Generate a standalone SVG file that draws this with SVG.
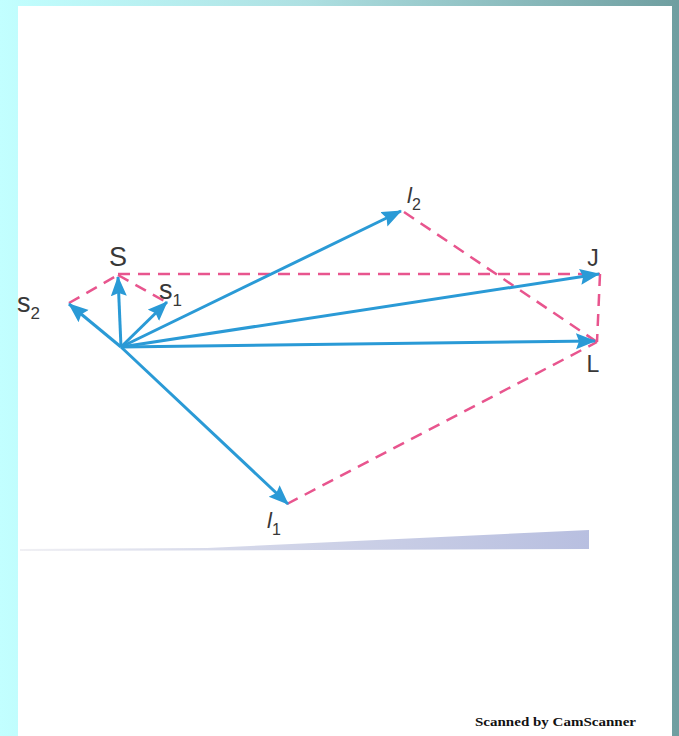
<svg xmlns="http://www.w3.org/2000/svg" width="679" height="736" viewBox="0 0 679 736">
  <defs>
    <linearGradient id="bg" x1="0" y1="0" x2="1" y2="0">
      <stop offset="0" stop-color="#c2ffff"/>
      <stop offset="0.45" stop-color="#aee0e2"/>
      <stop offset="1" stop-color="#6f9ea0"/>
    </linearGradient>
    <linearGradient id="wedge" x1="0" y1="0" x2="1" y2="0">
      <stop offset="0" stop-color="#f0f0f4"/>
      <stop offset="0.35" stop-color="#d6d9ea"/>
      <stop offset="1" stop-color="#b8bfe0"/>
    </linearGradient>
    <marker id="arr" markerUnits="userSpaceOnUse" markerWidth="22" markerHeight="18" refX="19" refY="8" orient="auto">
      <path d="M0,0 L20,8 L0,16 L3,8 z" fill="#2a9ad6"/>
    </marker>
    <style>
      .vec { stroke: #2a9ad6; stroke-width: 3; fill: none; marker-end: url(#arr); }
      .dash { stroke: #e8558e; stroke-width: 2.5; fill: none; stroke-dasharray: 12 8; }
      .lbl { font-family: "Liberation Sans", Arial, sans-serif; fill: #383838; }
      .it { font-style: italic; }
      .scan { font-family: "Liberation Serif", "Times New Roman", serif; font-weight: bold; fill: #111111; }
    </style>
  </defs>

  <rect x="0" y="0" width="679" height="736" fill="url(#bg)"/>
  <rect x="18" y="6" width="654" height="730" fill="#ffffff"/>

  <!-- faint scan band at bottom -->
  <polygon points="20,549 207,548 589,530 589,549 20,551" fill="url(#wedge)"/>

  <g id="connectors">
    <line class="dash" x1="69" y1="303" x2="118" y2="275"/>
    <line class="dash" x1="118" y1="275" x2="166" y2="302"/>
    <line class="dash" x1="118" y1="274" x2="600" y2="274"/>
    <line class="dash" x1="600" y1="274" x2="597" y2="342"/>
    <line class="dash" x1="404" y1="212" x2="597" y2="342"/>
    <line class="dash" x1="287" y1="504" x2="597" y2="342"/>

    <line class="vec" x1="121" y1="347" x2="118" y2="277"/>
    <line class="vec" x1="121" y1="347" x2="69" y2="304"/>
    <line class="vec" x1="121" y1="347" x2="167" y2="302"/>
    <line class="vec" x1="121" y1="347" x2="401" y2="211"/>
    <line class="vec" x1="121" y1="347" x2="599" y2="274"/>
    <line class="vec" x1="121" y1="347" x2="595" y2="341"/>
    <line class="vec" x1="121" y1="347" x2="288" y2="504"/>
  </g>

  <g id="S"><text class="lbl" x="118" y="266" font-size="27" text-anchor="middle">S</text></g>
  <g id="s1"><text class="lbl" x="159" y="299" font-size="27">s<tspan font-size="17" dy="7">1</tspan></text></g>
  <g id="s2"><text class="lbl" x="17" y="312" font-size="27">s<tspan font-size="17" dy="7">2</tspan></text></g>
  <g id="l2"><text class="lbl" x="407" y="203" font-size="22"><tspan class="it">l</tspan><tspan font-size="16" dy="7">2</tspan></text></g>
  <g id="J"><text class="lbl" x="593" y="266" font-size="23" text-anchor="middle">J</text></g>
  <g id="L"><text class="lbl" x="593" y="372" font-size="23" text-anchor="middle">L</text></g>
  <g id="l1"><text class="lbl" x="267" y="528" font-size="22"><tspan class="it">l</tspan><tspan font-size="16" dy="7">1</tspan></text></g>

  <text class="scan" x="475" y="726" font-size="13" textLength="161" lengthAdjust="spacingAndGlyphs">Scanned by CamScanner</text>
</svg>
